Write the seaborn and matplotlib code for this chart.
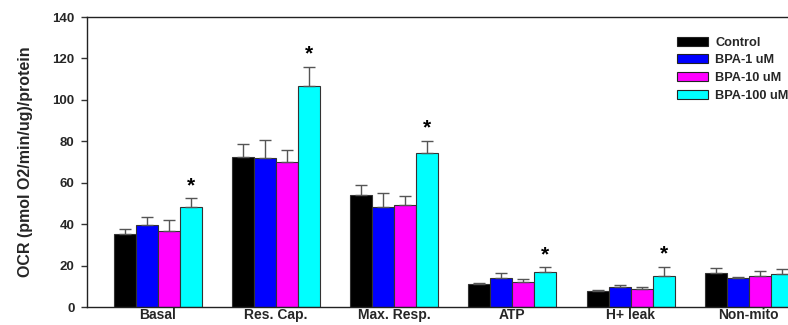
import matplotlib
matplotlib.use("Agg")
import matplotlib.pyplot as plt
import seaborn as sns
import pandas as pd
import numpy as np

categories = ["Basal", "Res. Cap.", "Max. Resp.", "ATP", "H+ leak", "Non-mito"]
groups = ["Control", "BPA-1 uM", "BPA-10 uM", "BPA-100 uM"]
colors = ["#000000", "#0000FF", "#FF00FF", "#00FFFF"]

control = [35.4, 72.5, 54.0, 11.1, 7.7, 16.3]
bpa1 = [39.7, 72.0, 48.5, 13.9, 9.8, 13.9]
bpa10 = [36.8, 70.0, 49.2, 11.9, 8.7, 14.8]
bpa100 = [48.2, 106.5, 74.2, 16.9, 15.1, 16.1]

control_err = [2.1, 6.0, 5.0, 0.6, 0.3, 2.4]
bpa1_err = [3.8, 8.5, 6.5, 2.4, 0.7, 0.4]
bpa10_err = [5.0, 6.0, 4.2, 1.5, 0.8, 2.4]
bpa100_err = [4.3, 9.5, 6.0, 2.3, 4.4, 2.3]

significant = {"BPA-100 uM": ["Basal", "Res. Cap.", "Max. Resp.", "ATP", "H+ leak"]}

values = [control, bpa1, bpa10, bpa100]
errs = [control_err, bpa1_err, bpa10_err, bpa100_err]

rows = []
for g, vals, es in zip(groups, values, errs):
    for c, v, e in zip(categories, vals, es):
        rows.append({"category": c, "group": g, "value": v, "err": e})
df = pd.DataFrame(rows)

sns.set_theme(style="white")
plt.rcParams["font.family"] = ["Liberation Sans", "DejaVu Sans"]
plt.rcParams["font.weight"] = "bold"

fig = plt.figure(figsize=(7.88, 3.25), dpi=100)
ax = fig.add_axes([87 / 788, 1 - 307 / 325, 709 / 788, 290 / 325])

sns.barplot(data=df, x="category", y="value", hue="group", order=categories,
            hue_order=groups, palette=colors, errorbar=None, width=0.744,
            edgecolor="#333333", linewidth=0.8, ax=ax, saturation=1)

# error bars and significance markers
for gi, g in enumerate(groups):
    cont = ax.containers[gi]
    for ci, bar in enumerate(cont):
        x = bar.get_x() + bar.get_width() / 2
        h = bar.get_height()
        e = errs[gi][ci]
        ax.errorbar([x], [h], yerr=[[0], [e]], fmt="none", ecolor="#555555",
                    elinewidth=1.0, capsize=4.5, capthick=1.0, zorder=1)
        if categories[ci] in significant.get(g, []):
            ax.text(x, h + e + 1.5, "*", ha="center", va="bottom",
                    fontsize=15, fontweight="bold", color="black")

ax.set_ylim(0, 140)
ax.set_xlim(-0.6, 5.4)
ax.set_yticks(np.arange(0, 141, 20))
ax.tick_params(axis="y", which="both", left=True, direction="out", length=4,
               width=1, labelsize=9.5, pad=5, color="#333333")
ax.tick_params(axis="x", bottom=False, length=0, labelsize=10, pad=1)
for lab in ax.get_xticklabels() + ax.get_yticklabels():
    lab.set_fontweight("bold")
ax.set_xlabel("")
ax.set_ylabel("OCR (pmol O2/min/ug)/protein", fontsize=11.5, fontweight="bold", labelpad=14)

for s in ["left", "bottom", "top", "right"]:
    ax.spines[s].set_visible(True)
    ax.spines[s].set_color("#222222")
    ax.spines[s].set_linewidth(1.0)

leg = ax.legend(loc="upper left", bbox_to_anchor=(585 / 709, 0.95), frameon=False,
                fontsize=9.2, handlelength=2.4, handleheight=0.7, labelspacing=0.45,
                handletextpad=0.6, borderaxespad=0)
for t in leg.get_texts():
    t.set_fontweight("bold")
for p in leg.get_patches():
    p.set_edgecolor("#222222")
    p.set_linewidth(0.8)

fig.savefig("out.png", dpi=100)
